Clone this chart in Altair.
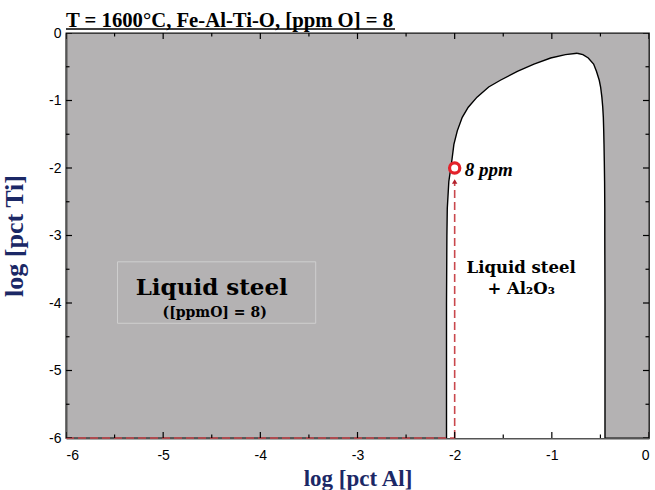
import altair as alt
import pandas as pd

# ---- data ----
# Boundary of the "Liquid steel + Al2O3" region, sampled at log[pct Ti] levels
y_levels = [-6.0, -4.0, -3.0, -2.6, -2.2, -1.9, -1.65, -1.45, -1.25, -1.1, -0.95,
            -0.8, -0.7, -0.57, -0.46, -0.37, -0.32, -0.30]
x_left = [-2.084, -2.084, -2.08, -2.076, -2.06, -2.03, -2.008, -1.973, -1.922, -1.86,
          -1.77, -1.65, -1.53, -1.355, -1.184, -1.012, -0.86, -0.74]
x_right = [-0.453, -0.453, -0.455, -0.455, -0.457, -0.46, -0.463, -0.466, -0.47, -0.476,
           -0.485, -0.498, -0.512, -0.54, -0.57, -0.625, -0.68, -0.74]

# 8 ppm marker
marker_x = [-2.0]
marker_y = [-2.0]
marker_label = ["8 ppm"]

# dashed guide lines (x, y, x2, y2)
guide_x = [-6.0, -2.0]
guide_y = [-6.0, -6.0]
guide_x2 = [-2.0, -2.0]
guide_y2 = [-6.0, -2.2]
arrow_x = [-2.0]
arrow_y = [-2.2]

# region labels
liq_x = [-4.5]
liq_y = [-3.78]
liq_text = ["Liquid steel"]
ppm_x = [-4.47]
ppm_y = [-4.15]
ppm_text = ["([ppmO] = 8)"]
al_x = [-1.316, -1.316]
al_y = [-3.48, -3.79]
al_text = ["Liquid steel", "+ Al\u2082O\u2083"]

# faint box around the left label
box_x, box_x2, box_y, box_y2 = [-5.47], [-3.43], [-3.39], [-4.30]

# ticks
major_ticks = [-6, -5, -4, -3, -2, -1, 0]
minor_ticks = [-5.5, -4.5, -3.5, -2.5, -1.5, -0.5]

TITLE = ["T = 1600\u00b0C, Fe-Al-Ti-O, [ppm O] = 8"]
W, H = 583, 405
NAVY = "#1b2866"
RED = "#e3222b"
DASH_RED = "#c9484d"

# ---- tables ----
region = pd.DataFrame({"y": y_levels, "xl": x_left, "xr": x_right})
outline = pd.concat([
    pd.DataFrame({"x": x_left, "y": y_levels, "side": "L"}),
    pd.DataFrame({"x": x_right, "y": y_levels, "side": "R"}),
])
guides = pd.DataFrame({"x": guide_x, "y": guide_y, "x2": guide_x2, "y2": guide_y2})
arrow = pd.DataFrame({"x": arrow_x, "y": arrow_y})
marker = pd.DataFrame({"x": marker_x, "y": marker_y, "t": marker_label})
liq = pd.DataFrame({"x": liq_x, "y": liq_y, "t": liq_text})
ppm = pd.DataFrame({"x": ppm_x, "y": ppm_y, "t": ppm_text})
al = pd.DataFrame({"x": al_x, "y": al_y, "t": al_text})
box = pd.DataFrame({"x": box_x, "x2": box_x2, "y": box_y, "y2": box_y2})
majors = pd.DataFrame({"v": major_ticks})
minors = pd.DataFrame({"v": minor_ticks})
title_df = pd.DataFrame({"t": TITLE})

xs = alt.Scale(domain=[-6, 0], nice=False, zero=False)
ys = alt.Scale(domain=[-6, 0], nice=False, zero=False)

x_axis = alt.Axis(values=major_ticks, ticks=False, grid=False, labelExpr="'' + datum.value",
                  labelFont="Liberation Sans", labelFontSize=14, labelColor="black",
                  labelPadding=10, title="log [pct Al]", titleFont="Liberation Serif",
                  titleFontSize=23, titleFontWeight="bold", titleColor=NAVY, titlePadding=5,
                  domainColor="#555555", domainWidth=2)
y_axis = alt.Axis(values=major_ticks, ticks=False, grid=False, labelExpr="'' + datum.value",
                  labelFont="Liberation Sans", labelFontSize=14, labelColor="black",
                  labelPadding=5, title="log [pct Ti]", titleFont="Liberation Serif",
                  titleFontSize=26, titleFontWeight="bold", titleColor=NAVY, titlePadding=21,
                  domainColor="#555555", domainWidth=2)

base_area = alt.Chart(region).mark_area(orient="horizontal", color="white", opacity=1).encode(
    y=alt.Y("y:Q", scale=ys, axis=y_axis),
    x=alt.X("xl:Q", scale=xs, axis=x_axis),
    x2="xr:Q",
)

line = alt.Chart(outline).mark_line(color="black", strokeWidth=1.4).encode(
    x=alt.X("x:Q", scale=xs), y=alt.Y("y:Q", scale=ys), detail="side:N", order=alt.Order("y:Q")
)

boxl = alt.Chart(box).mark_rect(filled=False, stroke="#cfcfcf", strokeWidth=1).encode(
    x="x:Q", x2="x2:Q", y="y:Q", y2="y2:Q"
)

guide = alt.Chart(guides).mark_rule(color=DASH_RED, strokeWidth=1.6, strokeDash=[8, 4]).encode(
    x="x:Q", y="y:Q", x2="x2:Q", y2="y2:Q"
)

arrowhead = alt.Chart(arrow).mark_point(shape="triangle-up", filled=True, size=30,
                                        color="#b3202b", opacity=1).encode(x="x:Q", y="y:Q")

circle = alt.Chart(marker).mark_point(shape="circle", filled=False, fill="white", fillOpacity=1,
                                      stroke=RED, strokeWidth=3.2, size=105, opacity=1).encode(
    x="x:Q", y="y:Q")

mtext = alt.Chart(marker).mark_text(align="left", baseline="middle", dx=10, dy=2,
                                    font="Liberation Serif", fontSize=19, fontWeight="bold",
                                    fontStyle="italic", color="black").encode(
    x="x:Q", y="y:Q", text="t:N")

liq_t = alt.Chart(liq).mark_text(align="center", baseline="middle", font="DejaVu Serif",
                                 fontSize=23, fontWeight="bold", color="black").encode(
    x="x:Q", y="y:Q", text="t:N")
ppm_t = alt.Chart(ppm).mark_text(align="center", baseline="middle", font="DejaVu Serif",
                                 fontSize=14, fontWeight="bold", color="black").encode(
    x="x:Q", y="y:Q", text="t:N")
al_t = alt.Chart(al).mark_text(align="center", baseline="middle", font="DejaVu Serif",
                               fontSize=16.5, fontWeight="bold", color="black").encode(
    x="x:Q", y="y:Q", text="t:N")


def vticks(df, size, at):
    return alt.Chart(df).mark_tick(orient="vertical", size=size, thickness=1.2, color="black",
                                   clip=True, opacity=1).encode(
        x=alt.X("v:Q", scale=xs), y=alt.datum(at, scale=ys))


def hticks(df, size, at):
    return alt.Chart(df).mark_tick(orient="horizontal", size=size, thickness=1.2, color="black",
                                   clip=True, opacity=1).encode(
        y=alt.Y("v:Q", scale=ys), x=alt.datum(at, scale=xs))


ticks = [vticks(majors, 12, -6), vticks(minors, 7, -6), vticks(majors, 12, 0), vticks(minors, 7, 0),
         hticks(majors, 12, -6), hticks(minors, 7, -6), hticks(majors, 12, 0), hticks(minors, 7, 0)]

# chart title drawn as text above the plot, with its underline
title_t = alt.Chart(title_df).mark_text(align="left", baseline="alphabetic", font="Liberation Serif",
                                        fontSize=20.7, fontWeight="bold", color="black").encode(
    x=alt.value(0), y=alt.value(-6.5), text="t:N")
underline = alt.Chart(title_df).mark_rule(color="black", strokeWidth=1.3).encode(
    x=alt.value(0), x2=alt.value(329), y=alt.value(-4)
)

chart = alt.layer(base_area, line, boxl, guide, arrowhead, circle, mtext, liq_t, ppm_t, al_t,
                  *ticks, title_t, underline).properties(
    width=W, height=H,
    background="white",
    autosize=alt.AutoSizeParams(type="none"),
    padding={"left": 66, "top": 33, "right": 6, "bottom": 52},
).configure_view(fill="#b4b2b3", stroke="#111111", strokeWidth=1.3)

chart.save("out.html", embed_options={"renderer": "svg", "actions": False})
